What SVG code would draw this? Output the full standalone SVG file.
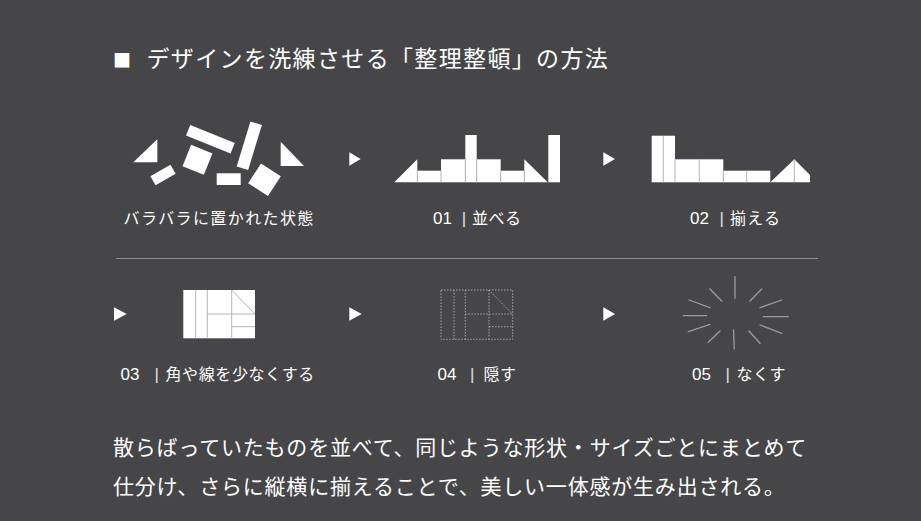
<svg xmlns="http://www.w3.org/2000/svg" width="921" height="521" viewBox="0 0 921 521">
<style>
.bg{fill:#464648}
.t{font-family:"Liberation Sans","Noto Sans CJK JP",sans-serif;fill:#ffffff}
.jp{font-family:"Noto Sans CJK JP",sans-serif}
.lbl{font-size:16px}
.num{font-size:17px}
.bar{font-size:17px;fill:#e0e0e0}
.sh{fill:#ffffff}
.in{stroke:#b4b4b4;stroke-width:1;fill:none}
.dash{stroke:#a8a8a8;stroke-width:1;fill:none;stroke-dasharray:1.5 1.5}
.ray{stroke:#9c9c9c;stroke-width:1.3;fill:none;stroke-linecap:round}
.play{fill:#ffffff}
.sep{stroke:#8e8e8e;stroke-width:1}
</style>
<rect class="bg" x="0" y="0" width="921" height="521"/>

<g id="title">
<text class="t" y="66.5"><tspan class="jp" x="113" font-size="18">■</tspan><tspan class="jp" x="140" font-size="23" letter-spacing="1.35"> デザインを洗練させる「整理整頓」の方法</tspan></text>
</g>

<g id="step0">
<polygon class="sh" points="133.3,162.3 157.3,162.3 157.3,139.3"/>
<rect class="sh" x="-11.6" y="-5.2" width="23.2" height="10.4" transform="translate(163,175) rotate(-30)"/>
<rect class="sh" x="-24" y="-5.6" width="48" height="11.2" transform="translate(210.4,139.2) rotate(22)"/>
<rect class="sh" x="-11.5" y="-11.5" width="23" height="23" transform="translate(197.5,159.8) rotate(22)"/>
<rect class="sh" x="-6" y="-23.5" width="12" height="47" transform="translate(249.3,145.7) rotate(17)"/>
<rect class="sh" x="216.7" y="173.3" width="24" height="11.7"/>
<rect class="sh" x="-11.8" y="-11.8" width="23.6" height="23.6" transform="translate(264.5,179.7) rotate(33)"/>
<polygon class="sh" points="280.7,141.7 280.7,166 304,166"/>
<text class="t lbl" x="123.5" y="224" letter-spacing="1.4">バラバラに置かれた状態</text>
</g>

<g id="step1">
<polygon class="sh" points="394.3,182.3 417.3,182.3 417.3,159.3"/>
<rect class="sh" x="417.3" y="170.7" width="23.7" height="11.6"/>
<rect class="sh" x="441" y="159.3" width="24.3" height="23"/>
<rect class="sh" x="465.3" y="135" width="11.4" height="47.3"/>
<rect class="sh" x="476.7" y="159.3" width="24" height="23"/>
<rect class="sh" x="500.7" y="170.7" width="23.6" height="11.6"/>
<polygon class="sh" points="524.3,159.3 524.3,182.3 547.7,182.3"/>
<rect class="sh" x="548.3" y="135" width="11.7" height="47.3"/>
<path class="in" d="M417.3,170.7V182.3M441,170.7V182.3M465.3,159.3V182.3M476.7,159.3V182.3M500.7,170.7V182.3M524.3,170.7V182.3"/>
<text class="t" y="224"><tspan class="num" x="433">01 </tspan><tspan class="bar" x="461.8">| </tspan><tspan class="jp lbl" x="472" letter-spacing="0.5">並べる</tspan></text>
</g>

<g id="step2">
<rect class="sh" x="651.7" y="135.7" width="23.3" height="46.6"/>
<rect class="sh" x="675" y="159.3" width="48.3" height="23"/>
<rect class="sh" x="723.3" y="170.7" width="47" height="11.6"/>
<polygon class="sh" points="770.3,182.3 794.3,159.3 810,175 810,182.3"/>
<path class="in" d="M663.3,136V182.3M675,159.3V182.3M699.3,159.3V182.3M723.3,170.7V182.3M746.7,170.7V182.3M794.3,159.5V182.3"/>
<text class="t" y="224"><tspan class="num" x="690">02 </tspan><tspan class="bar" x="719.5">| </tspan><tspan class="jp lbl" x="730" letter-spacing="1.2">揃える</tspan></text>
</g>

<g id="divider">
<line class="sep" x1="116" y1="258.5" x2="818" y2="258.5"/>
</g>

<g id="step3">
<rect class="sh" x="183.3" y="290" width="71.7" height="48.3"/>
<path class="in" d="M195.7,290V338.3M207.3,290V338.3M207.3,314H255M231.7,290V338.3M231.7,326.7H255M231.7,290L255,314"/>
<text class="t" y="379.5"><tspan class="num" x="120.5">03 </tspan><tspan class="bar" x="154.5">| </tspan><tspan class="jp lbl" x="165.5" letter-spacing="0.6">角や線を少なくする</tspan></text>
</g>

<g id="step4">
<rect class="dash" x="441" y="290" width="71.7" height="49.3"/>
<path class="dash" d="M454,290V339.3M465.3,290V339.3M465.3,314H512.7M489,290V339.3M489,326.7H512.7M489,290L511.7,313.3"/>
<text class="t" y="379.5"><tspan class="num" x="437.5">04 </tspan><tspan class="bar" x="470">| </tspan><tspan class="jp lbl" x="483.5" letter-spacing="0.5">隠す</tspan></text>
</g>

<g id="step5">
<path class="ray" d="M735,276.7V298.3M733.5,330L734.3,349M683.3,315.7H706.7M763.3,316.7H788.3M710,289L721.7,301M750,301L761.7,289M708.3,342.3L720,331M749,331L760,343.3M689,300L710,307.7M688.3,331.7L710,324.3M760,307.7L781.7,300M760,325L781.7,333.3"/>
<text class="t" y="379.5"><tspan class="num" x="692">05 </tspan><tspan class="bar" x="725.5">| </tspan><tspan class="jp lbl" x="736.5" letter-spacing="0.5">なくす</tspan></text>
</g>

<g id="connectors">
<polygon class="play" points="349.3,152.3 349.3,165.7 360.7,159"/>
<polygon class="play" points="603.3,152.3 603.3,165.7 615,159"/>
<polygon class="play" points="114,307.3 114,320.7 126.7,314"/>
<polygon class="play" points="349.3,307.3 349.3,320.7 361.7,314"/>
<polygon class="play" points="603.3,307.3 603.3,320.7 615,314"/>
</g>

<g id="description">
<text class="t jp" font-size="21" letter-spacing="0.8"><tspan x="113" y="455.2">散らばっていたものを並べて、同じような形状・サイズごとにまとめて</tspan><tspan x="113" y="493.5">仕分け、さらに縦横に揃えることで、美しい一体感が生み出される。</tspan></text>
</g>
</svg>
